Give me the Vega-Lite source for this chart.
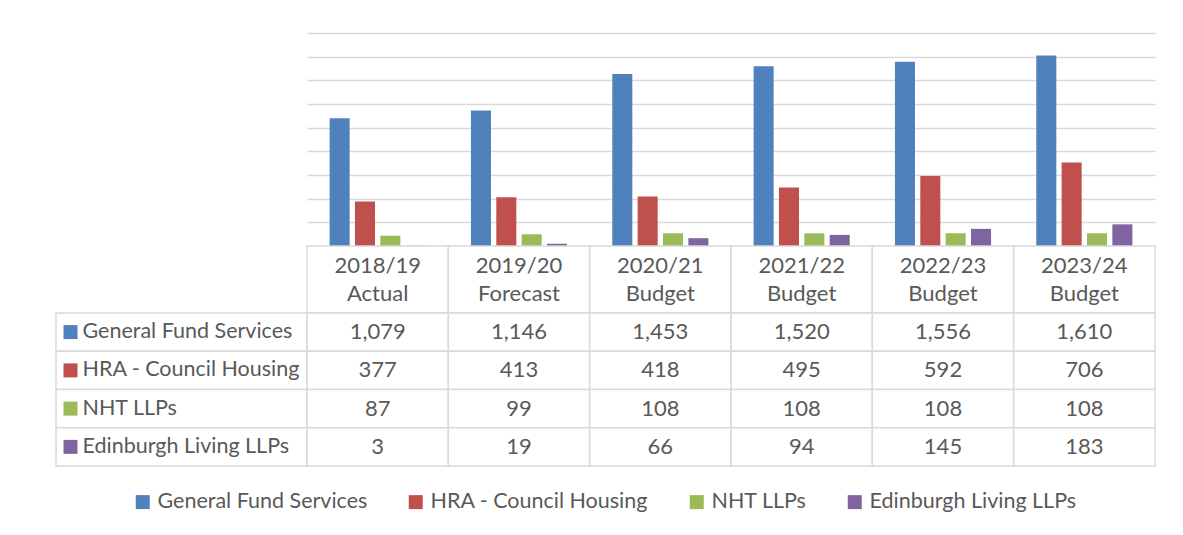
{
  "$schema": "https://vega.github.io/schema/vega-lite/v6.json",
  "padding": {"left": 55, "top": 33, "right": 29, "bottom": 0},
  "background": "white",
  "datasets": {
    "main": [
      {"cat": "2018/19\nActual", "series": "General Fund Services", "value": 1079},
      {"cat": "2018/19\nActual", "series": "HRA - Council Housing", "value": 377},
      {"cat": "2018/19\nActual", "series": "NHT LLPs", "value": 87},
      {"cat": "2018/19\nActual", "series": "Edinburgh Living LLPs", "value": 3},
      {"cat": "2019/20\nForecast", "series": "General Fund Services", "value": 1146},
      {"cat": "2019/20\nForecast", "series": "HRA - Council Housing", "value": 413},
      {"cat": "2019/20\nForecast", "series": "NHT LLPs", "value": 99},
      {"cat": "2019/20\nForecast", "series": "Edinburgh Living LLPs", "value": 19},
      {"cat": "2020/21\nBudget", "series": "General Fund Services", "value": 1453},
      {"cat": "2020/21\nBudget", "series": "HRA - Council Housing", "value": 418},
      {"cat": "2020/21\nBudget", "series": "NHT LLPs", "value": 108},
      {"cat": "2020/21\nBudget", "series": "Edinburgh Living LLPs", "value": 66},
      {"cat": "2021/22\nBudget", "series": "General Fund Services", "value": 1520},
      {"cat": "2021/22\nBudget", "series": "HRA - Council Housing", "value": 495},
      {"cat": "2021/22\nBudget", "series": "NHT LLPs", "value": 108},
      {"cat": "2021/22\nBudget", "series": "Edinburgh Living LLPs", "value": 94},
      {"cat": "2022/23\nBudget", "series": "General Fund Services", "value": 1556},
      {"cat": "2022/23\nBudget", "series": "HRA - Council Housing", "value": 592},
      {"cat": "2022/23\nBudget", "series": "NHT LLPs", "value": 108},
      {"cat": "2022/23\nBudget", "series": "Edinburgh Living LLPs", "value": 145},
      {"cat": "2023/24\nBudget", "series": "General Fund Services", "value": 1610},
      {"cat": "2023/24\nBudget", "series": "HRA - Council Housing", "value": 706},
      {"cat": "2023/24\nBudget", "series": "NHT LLPs", "value": 108},
      {"cat": "2023/24\nBudget", "series": "Edinburgh Living LLPs", "value": 183}
    ],
    "cats": [
      {"cat": "2018/19\nActual"},
      {"cat": "2019/20\nForecast"},
      {"cat": "2020/21\nBudget"},
      {"cat": "2021/22\nBudget"},
      {"cat": "2022/23\nBudget"},
      {"cat": "2023/24\nBudget"}
    ],
    "series": [
      {"series": "General Fund Services"},
      {"series": "HRA - Council Housing"},
      {"series": "NHT LLPs"},
      {"series": "Edinburgh Living LLPs"}
    ]
  },
  "config": {
    "view": {"stroke": null},
    "font": "Lato",
    "text": {"font": "Lato", "fontSize": 22, "color": "#595959"}
  },
  "spacing": 0,
  "bounds": "flush",
  "columns": 2,
  "concat": [
    {
      "width": 251,
      "height": 213,
      "data": {"values": [{}]},
      "mark": {"type": "text", "text": ""}
    },
    {
      "width": 848,
      "height": 213,
      "data": {"name": "main"},
      "mark": {"type": "bar"},
      "encoding": {
        "x": {"field": "cat", "type": "nominal", "sort": null, "scale": {"paddingInner": 0.32, "paddingOuter": 0.16}, "axis": null},
        "xOffset": {"field": "series", "type": "nominal", "sort": null, "scale": {"paddingInner": 0.21, "paddingOuter": 0}},
        "y": {
          "field": "value", "type": "quantitative",
          "scale": {"domain": [0, 1800], "nice": false},
          "axis": {"values": [200, 400, 600, 800, 1000, 1200, 1400, 1600, 1800], "labels": false, "ticks": false, "domain": false, "title": null, "grid": true, "gridColor": "#D9D9D9", "gridWidth": 1.5}
        },
        "color": {
          "field": "series", "type": "nominal",
          "scale": {
            "domain": ["General Fund Services", "HRA - Council Housing", "NHT LLPs", "Edinburgh Living LLPs"],
            "range": ["#4F81BD", "#C0504D", "#9BBB59", "#8064A2"]
          },
          "legend": {
            "orient": "none", "legendX": 76, "legendY": 458, "direction": "horizontal", "title": null,
            "symbolType": "square", "symbolSize": 196, "symbolStrokeWidth": 0, "symbolOpacity": 1,
            "labelFont": "Lato", "labelFontSize": 21.5, "labelColor": "#595959", "labelOffset": 4,
            "columnPadding": 37, "padding": 0, "labelLimit": 400
          }
        }
      }
    },
    {
      "width": 251,
      "height": 67,
      "data": {"values": [{}]},
      "mark": {"type": "text", "text": ""}
    },
    {
      "width": 848,
      "height": 67,
      "data": {"name": "cats"},
      "layer": [
        {
          "mark": {"type": "rect", "fill": "white", "stroke": "#D9D9D9", "strokeWidth": 1.5},
          "encoding": {
            "x": {"field": "cat", "type": "nominal", "sort": null, "scale": {"paddingInner": 0, "paddingOuter": 0}, "axis": null}
          }
        },
        {
          "mark": {"type": "text", "lineBreak": "\n", "lineHeight": 28, "dy": -14},
          "encoding": {
            "x": {"field": "cat", "type": "nominal", "sort": null},
            "text": {"field": "cat"}
          }
        }
      ]
    },
    {
      "width": 251,
      "height": 153,
      "data": {"name": "series"},
      "layer": [
        {
          "mark": {"type": "rect", "fill": "white", "stroke": "#D9D9D9", "strokeWidth": 1.5},
          "encoding": {
            "x": {"datum": 0, "type": "quantitative", "scale": {"domain": [0, 1], "nice": false}, "axis": null},
            "x2": {"datum": 1},
            "y": {"field": "series", "type": "nominal", "sort": null, "scale": {"paddingInner": 0, "paddingOuter": 0}, "axis": null}
          }
        },
        {
          "mark": {"type": "point", "shape": "square", "size": 196, "filled": true, "opacity": 1, "strokeWidth": 0, "xOffset": 14.5},
          "encoding": {
            "x": {"datum": 0, "type": "quantitative"},
            "y": {"field": "series", "type": "nominal", "sort": null},
            "color": {"field": "series", "type": "nominal"}
          }
        },
        {
          "mark": {"type": "text", "align": "left", "dx": 26.5, "fontSize": 21.5},
          "encoding": {
            "x": {"datum": 0, "type": "quantitative"},
            "y": {"field": "series", "type": "nominal", "sort": null},
            "text": {"field": "series"}
          }
        }
      ]
    },
    {
      "width": 848,
      "height": 153,
      "data": {"name": "main"},
      "layer": [
        {
          "mark": {"type": "rect", "fill": "white", "stroke": "#D9D9D9", "strokeWidth": 1.5},
          "encoding": {
            "x": {"field": "cat", "type": "nominal", "sort": null, "scale": {"paddingInner": 0, "paddingOuter": 0}, "axis": null},
            "y": {"field": "series", "type": "nominal", "sort": null, "scale": {"paddingInner": 0, "paddingOuter": 0}, "axis": null}
          }
        },
        {
          "mark": {"type": "text"},
          "encoding": {
            "x": {"field": "cat", "type": "nominal", "sort": null},
            "y": {"field": "series", "type": "nominal", "sort": null},
            "text": {"field": "value", "type": "quantitative", "format": ",d"}
          }
        }
      ]
    }
  ]
}
